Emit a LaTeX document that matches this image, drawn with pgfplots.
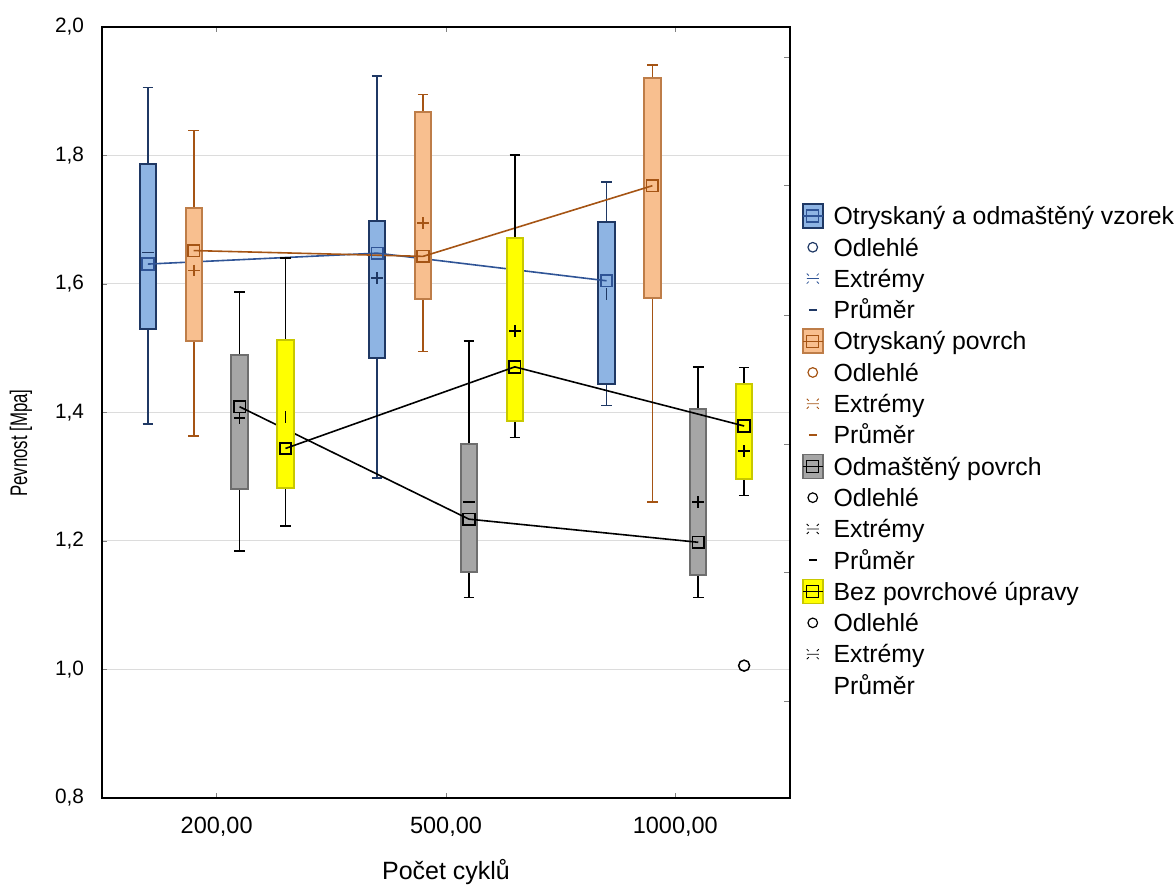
\documentclass[border=0pt]{standalone}
\usepackage{fontspec}
\setmainfont{Liberation Sans}
\newfontfamily\condfont[FakeStretch=0.7]{Liberation Sans}
\usepackage{pgfplots}
\pgfplotsset{compat=1.18}
\usepgfplotslibrary{statistics}

\definecolor{bfill}{HTML}{8EB4E3}
\definecolor{bedge}{HTML}{1F3864}
\definecolor{bline}{HTML}{2F5496}
\definecolor{ofill}{HTML}{F8BF8F}
\definecolor{oedge}{HTML}{BE7D48}
\definecolor{oline}{HTML}{A55414}
\definecolor{gfill}{HTML}{A6A6A6}
\definecolor{gedge}{HTML}{6E6E6E}
\definecolor{yfill}{HTML}{FFFF00}
\definecolor{yedge}{HTML}{C8C800}
\definecolor{gridc}{HTML}{DCDCDC}

\pgfplotsset{
  bx/.style n args={3}{
    forget plot,
    boxplot/draw direction=y,
    boxplot/box extend=0.071,
    boxplot/whisker extend=0.046,
    boxplot/draw/median/.code={},
    boxplot/every box/.style={draw=#1, fill=#2, line width=1pt},
    boxplot/every whisker/.style={draw=#3, line width=0.85pt},
  },
  med/.style={forget plot, #1, line width=0.8pt, mark=square, mark size=2.9pt,
    mark options={solid, line width=0.85pt}},
  avg/.style 2 args={forget plot, only marks, #1, mark=#2, mark size=2.9pt,
    mark options={line width=0.8pt}},
}

\begin{document}
\begin{tikzpicture}
\begin{axis}[
  scale only axis,
  width=344pt, height=385.5pt,
  xmin=-0.5, xmax=2.5,
  ymin=0.8, ymax=2.0,
  axis line style={line width=0.8pt},
  tick align=inside,
  major tick length=2.5pt,
  xtick={0,1,2},
  xticklabels={{200,00},{500,00},{1000,00}},
  xtick pos=both,
  xticklabel style={font=\fontsize{11.75}{13}\selectfont, yshift=-6pt},
  ytick={0.8,1.0,1.2,1.4,1.6,1.8,2.0},
  yticklabels={{0,8},{1,0},{1,2},{1,4},{1,6},{1,8},{2,0}},
  ytick pos=left,
  yticklabel style={font=\fontsize{10.4}{12}\selectfont, xshift=-5.5pt},
  ymajorgrids,
  grid style={gridc, line width=0.5pt},
  xlabel={Počet cyklů},
  xlabel style={font=\fontsize{12.5}{14}\selectfont, at={(axis description cs:0.5,0)}, anchor=center, yshift=-37pt},
  ylabel={Pevnost [Mpa]},
  ylabel style={font=\condfont\fontsize{12}{14}\selectfont, at={(axis description cs:-0.1177,0.4604)}, anchor=center},
  legend style={at={(1.0174,0.7752)}, anchor=north west, draw=none, fill=none,
    inner sep=0pt, outer sep=0pt, font=\fontsize{12.4}{14}\selectfont,
    row sep=0pt, column sep=5pt,
    nodes={inner sep=0pt, text height=12.2pt, text depth=3.45pt}},
  legend cell align=left,
]
% Otryskaný a odmaštěný vzorek
\addplot[boxplot prepared={draw position=-0.3, lower whisker=1.382, lower quartile=1.530, median=1.631, upper quartile=1.787, upper whisker=1.906}, bx={bedge}{bfill}{bedge}] coordinates {};
\addplot[boxplot prepared={draw position=0.7, lower whisker=1.298, lower quartile=1.485, median=1.648, upper quartile=1.698, upper whisker=1.924}, bx={bedge}{bfill}{bedge}] coordinates {};
\addplot[boxplot prepared={draw position=1.7, lower whisker=1.411, lower quartile=1.445, median=1.605, upper quartile=1.696, upper whisker=1.759}, bx={bedge}{bfill}{bedge}] coordinates {};
\addplot[med=bline] coordinates {(-0.3,1.631) (0.7,1.648) (1.7,1.605)};
\addplot[avg={bedge}{-}] coordinates {(-0.3,1.649)};
\addplot[avg={bedge}{+}] coordinates {(0.7,1.609)};
\addplot[avg={bedge}{|}] coordinates {(1.7,1.584)};
% Otryskaný povrch
\addplot[boxplot prepared={draw position=-0.1, lower whisker=1.363, lower quartile=1.512, median=1.652, upper quartile=1.718, upper whisker=1.839}, bx={oedge}{ofill}{oline}] coordinates {};
\addplot[boxplot prepared={draw position=0.9, lower whisker=1.495, lower quartile=1.577, median=1.643, upper quartile=1.867, upper whisker=1.895}, bx={oedge}{ofill}{oline}] coordinates {};
\addplot[boxplot prepared={draw position=1.9, lower whisker=1.261, lower quartile=1.578, median=1.753, upper quartile=1.920, upper whisker=1.941}, bx={oedge}{ofill}{oline}] coordinates {};
\addplot[med=oline] coordinates {(-0.1,1.652) (0.9,1.643) (1.9,1.753)};
\addplot[avg={oline}{+}] coordinates {(-0.1,1.621) (0.9,1.695)};
% Odmaštěný povrch
\addplot[boxplot prepared={draw position=0.1, lower whisker=1.184, lower quartile=1.281, median=1.409, upper quartile=1.489, upper whisker=1.587}, bx={gedge}{gfill}{black}] coordinates {};
\addplot[boxplot prepared={draw position=1.1, lower whisker=1.112, lower quartile=1.152, median=1.234, upper quartile=1.351, upper whisker=1.511}, bx={gedge}{gfill}{black}] coordinates {};
\addplot[boxplot prepared={draw position=2.1, lower whisker=1.112, lower quartile=1.147, median=1.198, upper quartile=1.405, upper whisker=1.471}, bx={gedge}{gfill}{black}] coordinates {};
\addplot[med=black] coordinates {(0.1,1.409) (1.1,1.234) (2.1,1.198)};
\addplot[avg={black}{+}] coordinates {(0.1,1.391) (2.1,1.261)};
\addplot[avg={black}{-}] coordinates {(1.1,1.261)};
% Bez povrchové úpravy
\addplot[boxplot prepared={draw position=0.3, lower whisker=1.223, lower quartile=1.283, median=1.344, upper quartile=1.513, upper whisker=1.640}, bx={yedge}{yfill}{black}] coordinates {};
\addplot[boxplot prepared={draw position=1.3, lower whisker=1.361, lower quartile=1.386, median=1.471, upper quartile=1.672, upper whisker=1.801}, bx={yedge}{yfill}{black}] coordinates {};
\addplot[boxplot prepared={draw position=2.3, lower whisker=1.271, lower quartile=1.296, median=1.379, upper quartile=1.445, upper whisker=1.470}, bx={yedge}{yfill}{black}] coordinates {};
\addplot[med=black] coordinates {(0.3,1.344) (1.3,1.471) (2.3,1.379)};
\addplot[avg={black}{|}] coordinates {(0.3,1.393)};
\addplot[avg={black}{+}] coordinates {(1.3,1.527) (2.3,1.340)};
% odlehlá hodnota
\addplot[forget plot, only marks, mark=o, mark size=2.75pt, black, mark options={line width=0.75pt}] coordinates {(2.3,1.006)};

% legenda
\addlegendimage{legend image code/.code={
  \draw[draw=bedge, fill=bfill, line width=0.8pt] (0pt,-6pt) rectangle (10pt,6pt);
  \draw[bline, line width=0.6pt] (2pt,-3pt) rectangle (8pt,3pt);
  \draw[bline, line width=0.6pt] (0pt,0pt) -- (10pt,0pt);}}
\addlegendentry{Otryskaný a odmaštěný vzorek}
\addlegendimage{legend image code/.code={\draw[bedge, line width=0.6pt] (5pt,0pt) circle (2.4pt);}}
\addlegendentry{Odlehlé}
\addlegendimage{legend image code/.code={
  \draw[bline, line width=0.4pt] (2pt,0pt) -- (8pt,0pt) (2pt,2.5pt) -- (3pt,1.5pt) (8pt,2.5pt) -- (7pt,1.5pt) (2pt,-2.5pt) -- (3pt,-1.5pt) (8pt,-2.5pt) -- (7pt,-1.5pt);}}
\addlegendentry{Extrémy}
\addlegendimage{legend image code/.code={\draw[bedge, line width=0.8pt] (3pt,0pt) -- (7pt,0pt);}}
\addlegendentry{Průměr}
\addlegendimage{legend image code/.code={
  \draw[draw=oedge, fill=ofill, line width=0.8pt] (0pt,-6pt) rectangle (10pt,6pt);
  \draw[oline, line width=0.6pt] (2pt,-3pt) rectangle (8pt,3pt);
  \draw[oline, line width=0.6pt] (0pt,0pt) -- (10pt,0pt);}}
\addlegendentry{Otryskaný povrch}
\addlegendimage{legend image code/.code={\draw[oline, line width=0.6pt] (5pt,0pt) circle (2.4pt);}}
\addlegendentry{Odlehlé}
\addlegendimage{legend image code/.code={
  \draw[oline, line width=0.4pt] (2pt,0pt) -- (8pt,0pt) (2pt,2.5pt) -- (3pt,1.5pt) (8pt,2.5pt) -- (7pt,1.5pt) (2pt,-2.5pt) -- (3pt,-1.5pt) (8pt,-2.5pt) -- (7pt,-1.5pt);}}
\addlegendentry{Extrémy}
\addlegendimage{legend image code/.code={\draw[oline, line width=0.8pt] (3pt,0pt) -- (7pt,0pt);}}
\addlegendentry{Průměr}
\addlegendimage{legend image code/.code={
  \draw[draw=gedge, fill=gfill, line width=0.8pt] (0pt,-6pt) rectangle (10pt,6pt);
  \draw[black, line width=0.6pt] (2pt,-3pt) rectangle (8pt,3pt);
  \draw[black, line width=0.6pt] (0pt,0pt) -- (10pt,0pt);}}
\addlegendentry{Odmaštěný povrch}
\addlegendimage{legend image code/.code={\draw[black, line width=0.6pt] (5pt,0pt) circle (2.4pt);}}
\addlegendentry{Odlehlé}
\addlegendimage{legend image code/.code={
  \draw[black, line width=0.4pt] (2pt,0pt) -- (8pt,0pt) (2pt,2.5pt) -- (3pt,1.5pt) (8pt,2.5pt) -- (7pt,1.5pt) (2pt,-2.5pt) -- (3pt,-1.5pt) (8pt,-2.5pt) -- (7pt,-1.5pt);}}
\addlegendentry{Extrémy}
\addlegendimage{legend image code/.code={\draw[black, line width=0.8pt] (3pt,0pt) -- (7pt,0pt);}}
\addlegendentry{Průměr}
\addlegendimage{legend image code/.code={
  \draw[draw=yedge, fill=yfill, line width=0.8pt] (0pt,-6pt) rectangle (10pt,6pt);
  \draw[black, line width=0.6pt] (2pt,-3pt) rectangle (8pt,3pt);
  \draw[black, line width=0.6pt] (0pt,0pt) -- (10pt,0pt);}}
\addlegendentry{Bez povrchové úpravy}
\addlegendimage{legend image code/.code={\draw[black, line width=0.6pt] (5pt,0pt) circle (2.4pt);}}
\addlegendentry{Odlehlé}
\addlegendimage{legend image code/.code={
  \draw[black, line width=0.4pt] (2pt,0pt) -- (8pt,0pt) (2pt,2.5pt) -- (3pt,1.5pt) (8pt,2.5pt) -- (7pt,1.5pt) (2pt,-2.5pt) -- (3pt,-1.5pt) (8pt,-2.5pt) -- (7pt,-1.5pt);}}
\addlegendentry{Extrémy}
\addlegendimage{legend image code/.code={\path (0pt,0pt) (10pt,0pt);}}
\addlegendentry{Průměr}
\end{axis}
% ticky na pravé ose
\begin{axis}[
  scale only axis,
  width=344pt, height=385.5pt,
  xmin=-0.5, xmax=2.5,
  ymin=0.8, ymax=2.0,
  axis x line=none,
  axis y line*=right,
  axis line style={line width=0.8pt},
  tick align=inside,
  major tick length=3pt,
  ytick={0.951,1.152,1.351,1.552,1.753,1.953},
  yticklabels={},
]
\end{axis}
\pgfresetboundingbox
\path (-51pt,-45pt) rectangle (537pt,399pt);
\end{tikzpicture}
\end{document}
